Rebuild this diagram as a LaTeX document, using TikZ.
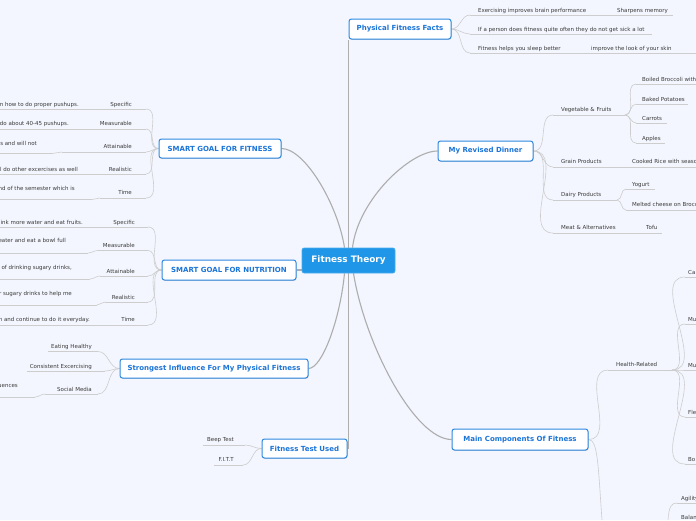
\documentclass[tikz,border=0pt]{standalone}
\usepackage{fontspec}
\setmainfont{DejaVu Sans}
\usetikzlibrary{shadows}
\definecolor{bgc}{HTML}{F3F6FE}
\definecolor{topicb}{HTML}{2F88E0}
\definecolor{topict}{HTML}{1B74D8}
\definecolor{centf}{HTML}{1F96E8}
\definecolor{mainl}{HTML}{ADADAD}
\definecolor{subl}{HTML}{CDCDCD}
\definecolor{leaft}{HTML}{3A3A3A}
\pgfdeclarelayer{back}
\pgfdeclarelayer{edges}
\pgfsetlayers{back,edges,main}
\tikzset{
  topic/.style={draw=topicb, line width=1pt, fill=white, rounded corners=2.5pt, text=topict,
    font=\fontsize{7}{8}\selectfont\bfseries, inner sep=0pt,
    drop shadow={shadow xshift=0.5pt, shadow yshift=-0.8pt, opacity=0.3, fill=black!60}},
  central/.style={draw=centf!80!white, line width=0.6pt, fill=centf, rounded corners=2pt, text=white,
    font=\fontsize{8.9}{10}\selectfont\bfseries, inner sep=0pt, minimum width=93pt, minimum height=25pt},
  mainline/.style={draw=mainl, line width=1.1pt},
  subline/.style={draw=subl, line width=0.6pt},
  leaftext/.style={text=leaft, font=\fontsize{5.5}{6.5}\selectfont, inner sep=0pt},
}
% name, x start, x end, y line, x text, y baseline, anchor, text
\newcommand{\mmleaf}[8]{%
  \coordinate (#1s) at (#2,#4);
  \coordinate (#1e) at (#3,#4);
  \begin{pgfonlayer}{edges}\draw[subline] (#1s) -- (#1e);\end{pgfonlayer}
  \node[leaftext, anchor=#7] (#1) at (#5,#6) {#8};}
\newcommand{\rcon}[2]{\begin{pgfonlayer}{edges}\draw[subline] (#1) to[out=0,in=180] (#2);\end{pgfonlayer}}
\newcommand{\lcon}[2]{\begin{pgfonlayer}{edges}\draw[subline] (#1) to[out=180,in=0] (#2);\end{pgfonlayer}}
\begin{document}
\begin{tikzpicture}[x=1pt,y=-1pt]
\begin{pgfonlayer}{back}
\fill[bgc] (0,0) rectangle (696,520);
\end{pgfonlayer}
\useasboundingbox (0,0) rectangle (696,520);

% central and main topics
\node[central] (C) at (348.5,260.5) {Fitness Theory};
\node[topic, minimum width=102pt, minimum height=20pt] (PF) at (400,29) {Physical Fitness Facts};
\node[topic, minimum width=95pt, minimum height=20pt] (MD) at (485.5,151) {My Revised Dinner};
\node[topic, minimum width=122pt, minimum height=19pt] (SF) at (220,148.5) {SMART GOAL FOR FITNESS};
\node[topic, minimum width=134pt, minimum height=20pt] (SN) at (229,270) {SMART GOAL FOR NUTRITION};
\node[topic, minimum width=188pt, minimum height=19pt] (SI) at (214,368.5) {Strongest Influence For My Physical Fitness};
\node[topic, minimum width=85pt, minimum height=19pt] (FT) at (304.5,448.5) {Fitness Test Used};
\node[topic, minimum width=136pt, minimum height=21pt] (MC) at (520,439.5) {Main Components Of Fitness};

\begin{pgfonlayer}{edges}
\draw[mainline] (C.north) -- (C.north |- PF.south);
\draw[mainline] (C.south) -- (C.south |- FT.east) -- (FT.east);
\draw[mainline] ([xshift=-4pt]C.north) .. controls (338,205) and (305,148.5) .. (SF.east);
\draw[mainline] ([xshift=4pt]C.north) .. controls (358,200) and (410,151) .. (MD.west);
\draw[mainline] (SN.east) -- (SN.east -| C.west);
\draw[mainline] ([xshift=-4pt]C.south) .. controls (340,320) and (322,368.5) .. (SI.east);
\draw[mainline] ([xshift=5pt]C.south) .. controls (365,345) and (415,439.5) .. (MC.west);
\end{pgfonlayer}

% Physical Fitness Facts
\mmleaf{pf1}{470}{590}{15}{478}{12}{base west}{Exercising improves brain performance}
\mmleaf{pf1a}{590}{673}{15}{617}{12}{base west}{Sharpens memory}
\mmleaf{pf2}{470}{652}{34}{478}{31}{base west}{If a person does fitness quite often they do not get sick a lot}
\mmleaf{pf3}{470}{565}{53}{478}{50}{base west}{Fitness helps you sleep better}
\mmleaf{pf3a}{565}{696}{53}{591}{50}{base west}{improve the look of your skin}
\rcon{PF.east}{pf1s}\rcon{PF.east}{pf2s}\rcon{PF.east}{pf3s}

% My Revised Dinner
\mmleaf{md1}{553}{625}{115}{561}{111}{base west}{Vegetable \& Fruits}
\mmleaf{md1a}{636}{696}{84}{642}{81}{base west}{Boiled Broccoli with}
\mmleaf{md1b}{636}{688}{104}{642}{101}{base west}{Baked Potatoes}
\mmleaf{md1c}{636}{667}{123}{642}{120}{base west}{Carrots}
\mmleaf{md1d}{636}{665}{143}{642}{140}{base west}{Apples}
\mmleaf{md2}{553}{625}{167}{561}{163}{base west}{Grain Products}
\mmleaf{md2a}{625}{696}{167}{632}{163}{base west}{Cooked Rice with seaso}
\mmleaf{md3}{553}{617}{200}{561}{196}{base west}{Dairy Products}
\mmleaf{md3a}{626}{655}{189}{632}{186}{base west}{Yogurt}
\mmleaf{md3b}{626}{696}{210}{632}{206}{base west}{Melted cheese on Brocc}
\mmleaf{md4}{553}{628}{233}{561}{229}{base west}{Meat \& Alternatives}
\mmleaf{md4a}{628}{662}{233}{646}{229}{base west}{Tofu}
\rcon{MD.east}{md1s}\rcon{MD.east}{md2s}\rcon{MD.east}{md3s}\rcon{MD.east}{md4s}
\rcon{md1e}{md1as}\rcon{md1e}{md1bs}\rcon{md1e}{md1cs}\rcon{md1e}{md1ds}
\rcon{md3e}{md3as}\rcon{md3e}{md3bs}

% Main Components Of Fitness
\mmleaf{mc1}{608}{672}{370}{616}{366}{base west}{Health-Related}
\mmleaf{hr1}{685}{696}{277}{688}{274}{base west}{Ca}
\mmleaf{hr2}{685}{696}{324}{688}{321}{base west}{Mu}
\mmleaf{hr3}{685}{696}{370}{688}{367}{base west}{Mu}
\mmleaf{hr4}{685}{696}{417}{688}{414}{base west}{Fle}
\mmleaf{hr5}{685}{696}{464}{688}{461}{base west}{Bo}
\rcon{MC.east}{mc1s}
\rcon{mc1e}{hr1s}\rcon{mc1e}{hr2s}\rcon{mc1e}{hr3s}\rcon{mc1e}{hr4s}\rcon{mc1e}{hr5s}
\coordinate (sk) at (602,520);
\coordinate (skb) at (668,520);
\mmleaf{ag}{677}{696}{503}{681}{500}{base west}{Agility}
\node[leaftext, anchor=base west] (bal) at (681,519.5) {Balan};
\begin{pgfonlayer}{edges}
\draw[subline] (MC.east) .. controls (598,440) and (598,465) .. (sk);
\draw[subline] (skb) .. controls (669,507) and (671,503) .. (ags);
\end{pgfonlayer}

% SMART GOAL FOR FITNESS
\mmleaf{sf1}{88}{146}{109}{132}{106}{base east}{Specific}
\mmleaf{sf1a}{-2}{88}{109}{79}{106}{base east}{n how to do proper pushups.}
\mmleaf{sf2}{88}{146}{129}{132}{125.5}{base east}{Measurable}
\mmleaf{sf2a}{-2}{88}{129}{69}{125.5}{base east}{do about 40-45 pushups.}
\mmleaf{sf3}{62}{146}{152}{132}{148.5}{base east}{Attainable}
\mmleaf{sf3a}{-2}{52}{153.5}{37}{145}{base east}{s and will not}
\mmleaf{sf4}{88}{146}{174}{132}{171}{base east}{Realistic}
\mmleaf{sf4a}{-2}{88}{174}{78}{171}{base east}{l do other excercises as well}
\mmleaf{sf5}{100}{146}{198}{132}{194.5}{base east}{Time}
\mmleaf{sf5a}{-2}{92}{199.5}{75}{190}{base east}{nd of the semester which is}
\lcon{SF.west}{sf1e}\lcon{SF.west}{sf2e}\lcon{SF.west}{sf3e}\lcon{SF.west}{sf4e}\lcon{SF.west}{sf5e}
\rcon{sf3ae}{sf3s}\rcon{sf5ae}{sf5s}

% SMART GOAL FOR NUTRITION
\mmleaf{sn1}{90}{148}{227}{135}{224}{base east}{Specific}
\mmleaf{sn1a}{-2}{90}{227}{83}{224}{base east}{ink more water and eat fruits.}
\mmleaf{sn2}{98}{148}{250.5}{135}{247}{base east}{Measurable}
\mmleaf{sn2a}{-2}{88}{253}{66}{242}{base east}{eater and eat a bowl full}
\mmleaf{sn3}{100}{148}{276}{135}{273}{base east}{Attainable}
\mmleaf{sn3a}{-2}{90}{279}{72}{269}{base east}{of drinking sugary drinks,}
\mmleaf{sn4}{105}{148}{302}{135}{299}{base east}{Realistic}
\mmleaf{sn4a}{-2}{97}{305}{72}{295}{base east}{r sugary drinks to help me}
\mmleaf{sn5}{95}{148}{325}{135}{321.5}{base east}{Time}
\mmleaf{sn5a}{-2}{95}{325}{90}{321.5}{base east}{n and continue to do it everyday.}
\lcon{SN.west}{sn1e}\lcon{SN.west}{sn2e}\lcon{SN.west}{sn3e}\lcon{SN.west}{sn4e}\lcon{SN.west}{sn5e}
\rcon{sn2ae}{sn2s}\rcon{sn3ae}{sn3s}\rcon{sn4ae}{sn4s}

% Strongest Influence
\mmleaf{si1}{48}{98}{351.5}{92}{348}{base east}{Eating Healthy}
\mmleaf{si2}{27}{105}{371}{92}{368}{base east}{Consistent Excercising}
\mmleaf{si3}{45}{98}{394}{92}{391}{base east}{Social Media}
\mmleaf{si3a}{-2}{35}{397}{18}{387}{base east}{uences}
\lcon{SI.west}{si1e}\lcon{SI.west}{si2e}\lcon{SI.west}{si3e}
\rcon{si3ae}{si3s}

% Fitness Test Used
\mmleaf{ft1}{203}{245}{445}{234}{441.5}{base east}{Beep Test}
\mmleaf{ft2}{214}{243}{465}{234}{461.5}{base east}{F.I.T.T}
\lcon{FT.west}{ft1e}\lcon{FT.west}{ft2e}
\end{tikzpicture}
\end{document}
